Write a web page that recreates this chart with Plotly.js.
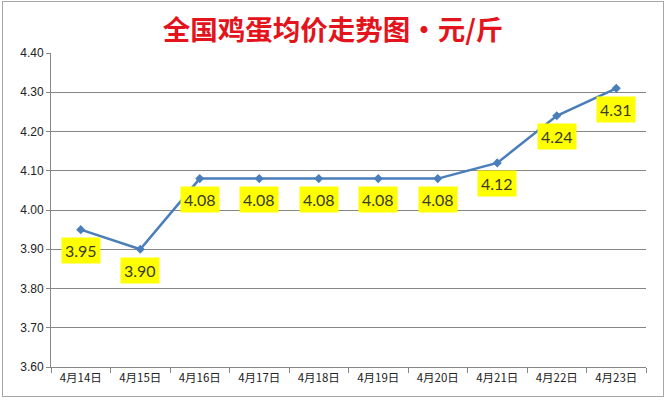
<!DOCTYPE html>
<html><head><meta charset="utf-8">
<script src="https://cdn.plot.ly/plotly-3.0.1.min.js"></script>
<style>
html,body{margin:0;padding:0;background:#fff;}
#wrap{position:relative;width:666px;height:400px;}
#chart{width:666px;height:400px;}
#frame{position:absolute;left:2px;top:1px;width:660px;height:394px;border:1px solid #a6a6a6;pointer-events:none;}
</style></head>
<body>
<div id="wrap"><div id="chart"></div><div id="frame"></div></div>
<script>
const categories = ["4月14日","4月15日","4月16日","4月17日","4月18日","4月19日","4月20日","4月21日","4月22日","4月23日"];
const prices = [3.95, 3.90, 4.08, 4.08, 4.08, 4.08, 4.08, 4.12, 4.24, 4.31];
const labels = prices.map(v => v.toFixed(2));

const trace = {
  x: categories, y: prices, type: 'scatter', mode: 'lines+markers',
  line: {color: '#4a7ebb', width: 2.5},
  marker: {symbol: 'diamond', size: 7, color: '#4a7ebb'},
  hoverinfo: 'skip'
};

const annotations = categories.map((c, i) => ({
  x: c, y: prices[i], text: labels[i], showarrow: false,
  yshift: -21, bgcolor: '#ffff00', borderpad: 3,
  font: {family: 'Lato, "Open Sans", sans-serif', size: 16, color: '#3a3a2a'}
}));

const layout = {
  width: 666, height: 400,
  margin: {l: 51, r: 20, t: 53, b: 33},
  paper_bgcolor: '#fff', plot_bgcolor: '#fff',
  showlegend: false,
  title: {text: '全国鸡蛋均价走势图・元/斤', x: 0.5, xanchor: 'center', y: 0.925, yanchor: 'middle',
    font: {family: '"Noto Sans CJK SC", sans-serif', size: 27.5, color: '#e3141b', weight: 'bold'}},
  xaxis: {type: 'category', range: [-0.5, 9.5], showgrid: false, showline: true, linecolor: '#868686', linewidth: 1,
    ticks: 'outside', tickson: 'boundaries', ticklen: 5, tickcolor: '#868686',
    tickfont: {family: '"Noto Sans CJK SC", sans-serif', size: 11.5, color: '#222'}, fixedrange: true},
  yaxis: {range: [3.6, 4.4], dtick: 0.1, tickformat: '.2f', showgrid: true, gridcolor: '#868686', gridwidth: 1,
    showline: true, linecolor: '#868686', linewidth: 1, ticks: 'outside', ticklen: 4, tickcolor: '#868686',
    zeroline: false, tickfont: {family: '"Liberation Sans", Arial, sans-serif', size: 12, color: '#222'}, fixedrange: true},
  annotations: annotations
};

Plotly.newPlot('chart', [trace], layout, {displayModeBar: false, staticPlot: true});
</script>
</body></html>
